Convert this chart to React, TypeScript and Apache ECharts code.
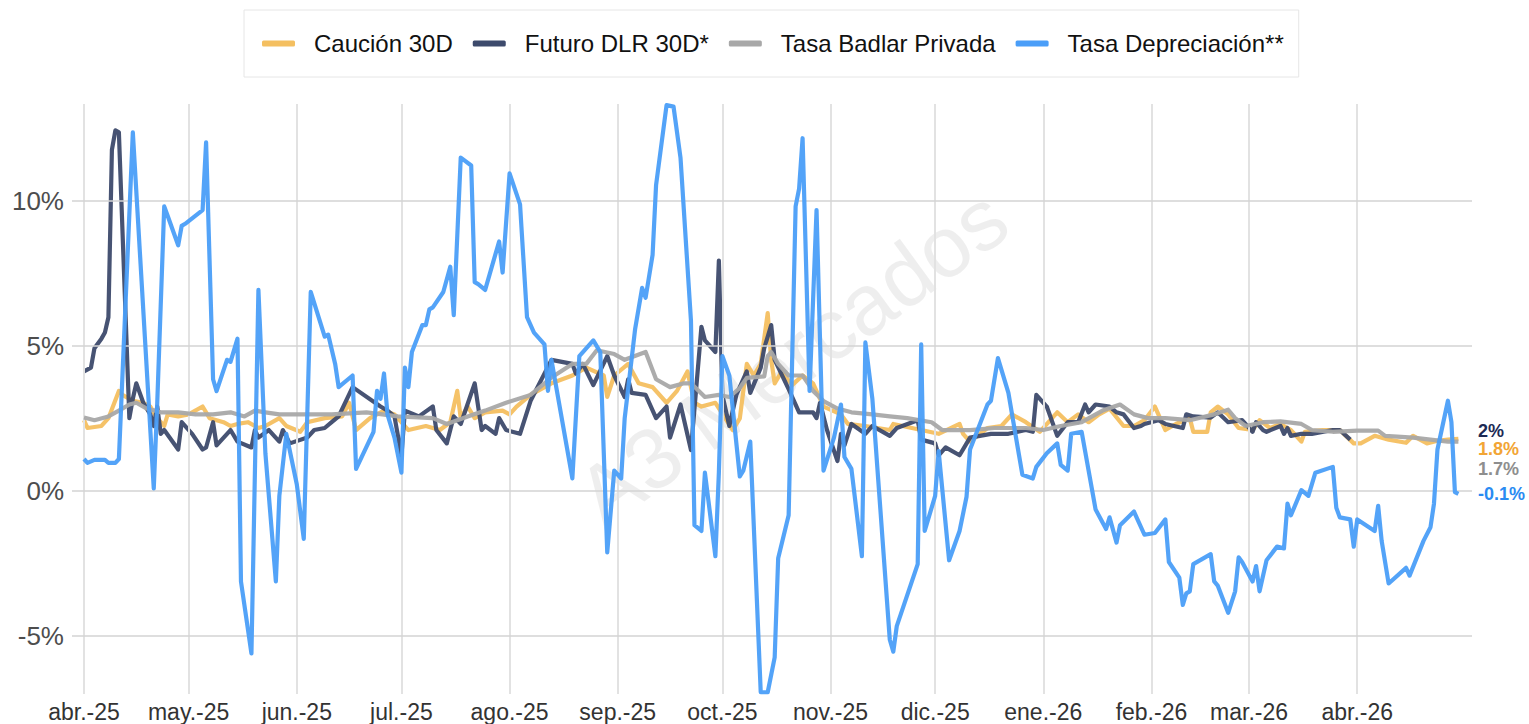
import React, { useEffect, useRef } from "react";
import * as echarts from "echarts";

// x values are day offsets from 1 Apr 2025
const monthLabels = ["abr.-25", "may.-25", "jun.-25", "jul.-25", "ago.-25", "sep.-25", "oct.-25", "nov.-25", "dic.-25", "ene.-26", "feb.-26", "mar.-26", "abr.-26"];
const monthStartDays = [0, 30, 61, 91, 122, 153, 183, 214, 244, 275, 306, 334, 365];
const yTicks = [-5, 0, 5, 10];
const seriesNames = ["Caución 30D", "Futuro DLR 30D*", "Tasa Badlar Privada", "Tasa Depreciación**"];
const endValues = [1.8, 2, 1.7, -0.1];
const lastDay = 394;

const caucion: [number, number][] = [
  [0, 2.44], [1, 2.17], [5, 2.24], [7, 2.51], [10, 3.45], [11, 3.31], [14, 3.11], [17, 3.04], [19, 2.91], [21, 2.51],
  [23, 2.24], [24, 2.64], [27, 2.57], [30, 2.64], [34, 2.91], [36, 2.51], [40, 2.37], [42, 2.24], [44, 2.31], [47, 2.37],
  [50, 2.17], [52, 2.24], [56, 2.51], [58, 2.24], [62, 2.04], [64, 2.37], [69, 2.51], [74, 2.57], [76, 3.04], [78, 2.1],
  [82, 2.51], [86, 2.77], [89, 2.64], [93, 2.1], [98, 2.24], [102, 2.1], [105, 2.37], [107, 3.45], [108, 2.51], [110, 2.91],
  [112, 2.51], [115, 2.71], [120, 2.77], [122, 2.64], [124, 2.91], [128, 3.31], [134, 3.71], [140, 3.98], [144, 4.25], [149, 3.98],
  [150, 3.24], [152, 3.98], [156, 4.38], [159, 3.71], [163, 3.58], [167, 3.04], [170, 3.45], [173, 4.12], [175, 3.04], [177, 2.91],
  [181, 3.04], [186, 2.1], [188, 2.5], [190, 4.38], [192, 3.98], [194, 4.38], [196, 6.13], [197, 4.52], [198, 3.71], [200, 4.12],
  [203, 3.65], [206, 3.98], [209, 3.71], [212, 2.91], [217, 2.64], [219, 2.31], [224, 2.24], [231, 2.1], [232, 2.31], [240, 2.1],
  [245, 1.97], [251, 2.31], [252, 1.97], [254, 1.7], [259, 2.17], [263, 2.24], [266, 2.64], [270, 2.37], [274, 2.04], [279, 2.71],
  [282, 2.37], [285, 2.64], [288, 2.37], [291, 2.64], [294, 2.84], [298, 2.24], [301, 2.24], [304, 2.44], [307, 2.91], [310, 2.1],
  [313, 2.31], [317, 2.51], [318, 2.04], [322, 2.04], [323, 2.71], [325, 2.91], [328, 2.64], [331, 2.17], [335, 2.1], [337, 2.44],
  [340, 2.17], [343, 2.31], [346, 2.1], [349, 1.7], [350, 2.04], [355, 2.1], [360, 2.1], [364, 1.64], [366, 1.64], [370, 1.9],
  [374, 1.77], [379, 1.66], [381, 1.9], [385, 1.64], [388, 1.73], [391, 1.77], [394, 1.8],
];

const futuro: [number, number][] = [
  [0, 4.12], [2, 4.25], [3, 4.92], [5, 5.25], [6, 5.46], [7, 5.99], [8, 11.76], [9, 12.43], [10, 12.36], [13, 2.51],
  [14, 3.18], [15, 3.71], [17, 3.04], [19, 2.64], [20, 2.24], [21, 2.91], [22, 1.97], [23, 2.1], [27, 1.43], [28, 2.37],
  [31, 1.97], [34, 1.43], [35, 1.5], [37, 2.37], [38, 1.57], [42, 2.1], [44, 1.7], [48, 1.5], [49, 2.1], [50, 1.84],
  [53, 2.1], [56, 1.7], [57, 2.1], [59, 1.64], [64, 1.84], [66, 2.1], [69, 2.17], [71, 2.37], [73, 2.57], [77, 3.58],
  [85, 2.91], [87, 2.77], [89, 2.57], [91, 1.23], [92, 2.77], [96, 2.57], [100, 2.91], [101, 2.1], [104, 1.64], [106, 2.57],
  [108, 2.31], [112, 3.71], [114, 2.1], [115, 2.24], [118, 1.97], [119, 2.51], [121, 2.1], [125, 1.97], [128, 3.1], [134, 4.52],
  [140, 4.38], [141, 4.05], [143, 4.38], [146, 3.65], [150, 4.65], [152, 3.98], [155, 3.24], [156, 3.85], [157, 3.38], [161, 3.31],
  [164, 2.51], [167, 2.91], [168, 1.84], [171, 2.98], [174, 1.41], [177, 5.66], [178, 5.19], [181, 4.79], [182, 7.94], [183, 3.31],
  [185, 2.24], [187, 3.31], [190, 4.12], [191, 3.38], [194, 4.25], [195, 4.92], [197, 5.72], [198, 4.52], [202, 3.51], [205, 2.71],
  [209, 2.71], [210, 2.51], [211, 3.04], [213, 2.1], [216, 1.03], [217, 1.97], [218, 1.57], [220, 2.31], [224, 1.97], [226, 2.24],
  [231, 1.9], [233, 2.17], [239, 2.44], [240, 1.77], [244, 1.64], [245, 1.23], [247, 1.5], [251, 1.23], [254, 1.84], [260, 1.97],
  [265, 1.97], [270, 2.1], [272, 2.04], [273, 3.31], [276, 2.91], [279, 1.9], [282, 2.37], [285, 2.37], [287, 2.98], [288, 2.71],
  [290, 2.98], [294, 2.91], [296, 2.71], [298, 2.64], [301, 2.17], [303, 2.24], [304, 2.31], [308, 2.44], [310, 2.31], [315, 2.17],
  [316, 2.64], [318, 2.57], [323, 2.53], [325, 2.71], [328, 2.37], [332, 2.44], [335, 2.04], [336, 2.37], [338, 2.1], [339, 2.04],
  [343, 2.24], [344, 1.97], [345, 2.17], [346, 1.9], [349, 1.97], [352, 1.97], [358, 2.1], [360, 2.1], [363, 1.77],
];

const badlar: [number, number][] = [
  [0, 2.53], [3, 2.44], [7, 2.57], [10, 2.77], [13, 2.98], [15, 3.04], [18, 2.84], [22, 2.71], [27, 2.71], [32, 2.64],
  [37, 2.64], [42, 2.71], [46, 2.57], [49, 2.77], [52, 2.71], [56, 2.64], [61, 2.64], [71, 2.64], [81, 2.71], [90, 2.57],
  [100, 2.51], [104, 2.31], [110, 2.57], [115, 2.77], [121, 3.04], [128, 3.31], [130, 3.51], [134, 3.91], [140, 4.38], [144, 4.38],
  [147, 4.85], [152, 4.72], [155, 4.52], [161, 4.79], [164, 3.85], [168, 3.58], [172, 3.71], [174, 3.71], [178, 3.24], [182, 3.31],
  [185, 3.24], [188, 3.55], [190, 3.9], [195, 3.95], [196, 4.65], [197, 4.79], [199, 4.38], [202, 3.98], [206, 3.98], [209, 3.45],
  [212, 3.1], [216, 2.84], [220, 2.71], [226, 2.64], [231, 2.57], [236, 2.51], [243, 2.37], [246, 2.1], [254, 2.1], [261, 2.17],
  [270, 2.17], [275, 2.1], [280, 2.24], [286, 2.37], [292, 2.77], [297, 2.98], [301, 2.64], [305, 2.51], [310, 2.51], [317, 2.44],
  [324, 2.64], [328, 2.8], [330, 2.51], [333, 2.24], [338, 2.37], [343, 2.4], [349, 2.31], [352, 2.1], [358, 2.04], [365, 2.08],
  [371, 2.08], [373, 1.9], [381, 1.84], [386, 1.77], [391, 1.7], [394, 1.7],
];

const depreciacion: [number, number][] = [
  [0, 1.1], [1, 0.97], [3, 1.07], [6, 1.07], [7, 0.97], [9, 0.97], [10, 1.1], [14, 12.36], [20, 0.09], [21, 3.04],
  [23, 9.81], [24, 9.48], [27, 8.47], [28, 9.14], [29, 9.21], [34, 9.68], [35, 12.02], [37, 3.85], [38, 3.44], [41, 4.52],
  [42, 4.45], [44, 5.25], [45, -3.12], [48, -5.6], [50, 6.93], [52, 1.3], [55, -3.12], [56, -0.17], [58, 1.97], [61, 0.23],
  [63, -1.65], [65, 6.86], [69, 5.32], [70, 5.39], [72, 4.38], [73, 3.58], [77, 3.98], [78, 0.76], [83, 2.04], [84, 3.45],
  [85, 3.18], [86, 4.05], [87, 2.64], [89, 1.84], [91, 0.63], [92, 4.25], [93, 3.58], [94, 4.79], [97, 5.72], [98, 5.72],
  [99, 6.26], [100, 6.33], [103, 6.86], [105, 7.73], [106, 6.06], [108, 11.49], [111, 11.22], [112, 7.2], [113, 7.13], [115, 6.93],
  [119, 8.6], [120, 7.53], [122, 10.95], [125, 9.88], [127, 5.99], [129, 5.46], [132, 5.05], [133, 3.45], [134, 4.52], [140, 0.43],
  [142, 4.65], [146, 5.19], [148, 4.79], [150, -2.12], [152, 0.7], [154, 0.43], [155, 2.51], [158, 5.59], [160, 7.0], [161, 6.66],
  [163, 8.14], [164, 10.55], [167, 13.3], [169, 13.25], [171, 11.49], [174, 5.86], [175, -1.18], [177, -1.38], [178, 0.63], [181, -2.25],
  [182, 0.63], [183, 4.65], [185, 3.98], [188, 0.5], [189, 0.7], [191, 1.7], [194, -6.94], [196, -6.94], [198, -5.74], [199, -2.32],
  [202, -0.84], [204, 9.81], [205, 10.42], [206, 12.16], [208, 3.45], [210, 9.68], [212, 0.7], [215, 1.84], [217, 2.98], [218, 1.17],
  [220, 0.76], [223, -2.25], [224, 5.12], [226, 3.18], [231, -5.13], [232, -5.54], [233, -4.66], [239, -2.52], [240, 5.05], [241, -1.38],
  [244, -0.17], [245, 1.37], [248, -2.39], [251, -1.38], [253, -0.2], [254, 1.43], [259, 2.98], [260, 3.11], [262, 4.58], [265, 3.38],
  [269, 0.56], [272, 0.43], [273, 0.83], [276, 1.3], [279, 1.64], [280, 0.9], [282, 0.7], [283, 1.97], [286, 2.04], [290, -0.64],
  [293, -1.31], [294, -0.91], [296, -1.78], [297, -1.18], [301, -0.71], [302, -0.98], [304, -1.51], [307, -1.45], [310, -0.98], [311, -2.45],
  [314, -2.99], [315, -3.93], [316, -3.53], [317, -3.46], [318, -2.52], [323, -2.18], [324, -3.12], [325, -3.26], [328, -4.2], [330, -3.46],
  [331, -2.29], [332, -2.45], [335, -3.12], [336, -2.59], [337, -3.46], [339, -2.39], [342, -1.92], [344, -1.98], [345, -0.44], [346, -0.84],
  [349, 0.03], [351, -0.17], [353, 0.63], [358, 0.83], [359, -0.58], [360, -0.91], [363, -0.98], [364, -1.92], [365, -0.98], [370, -1.38],
  [371, -0.51], [372, -1.72], [374, -3.19], [379, -2.65], [380, -2.92], [384, -1.72], [386, -1.25], [387, -0.44], [388, 1.43], [391, 3.11],
  [392, 2.37], [393, -0.04], [394, -0.1],
];

const FONT = "'Liberation Sans', Arial, sans-serif";

export default function App() {
  const ref = useRef<HTMLDivElement>(null);

  useEffect(() => {
    if (!ref.current) return;
    const chart = echarts.init(ref.current, undefined, { renderer: "svg" });

    const datasets = [caucion, futuro, badlar, depreciacion];
    const colors = ["#F4BF60", "#3D4A6C", "#A8A8A8", "#4A9EF8"];
    const labelColors = ["#F2A535", "#1C2A55", "#8E8E8E", "#2A8BF2"];
    const labelOffsets = [10, -2, 27, 0];

    const lineSeries = datasets.map((d, i) => ({
      name: seriesNames[i],
      type: "line",
      data: d,
      showSymbol: false,
      symbol: "none",
      z: 3 + i,
      lineStyle: { color: colors[i], width: 4.2, opacity: 0.95, join: "round" },
      itemStyle: { color: colors[i] },
      emphasis: { disabled: true },
      markPoint: {
        silent: true,
        symbol: "circle",
        symbolSize: 1,
        itemStyle: { color: "rgba(0,0,0,0)" },
        data: [{ coord: [lastDay, endValues[i]], value: endValues[i] }],
        label: {
          show: true,
          position: "right",
          distance: 19,
          offset: [0, labelOffsets[i]],
          formatter: () => `${endValues[i]}%`,
          color: labelColors[i],
          fontSize: 18,
          fontWeight: "bold",
          lineHeight: 18,
          fontFamily: FONT,
        },
      },
    }));

    const gridSeries = {
      name: "grid",
      type: "line",
      data: [[monthStartDays[0], null]],
      symbol: "none",
      silent: true,
      z: 1,
      lineStyle: { opacity: 0 },
      markLine: {
        silent: true,
        symbol: ["none", "none"],
        label: { show: false },
        emphasis: { disabled: true },
        data: [
          ...monthStartDays.map((d) => ({ xAxis: d, lineStyle: { color: "#e2e2e2", width: 2, type: "solid" } })),
          ...yTicks.map((v) => ({ yAxis: v, lineStyle: { color: "#d3d3d3", width: 1.6, type: "solid" } })),
        ],
      },
    };

    chart.setOption({
      animation: false,
      backgroundColor: "#ffffff",
      textStyle: { fontFamily: FONT },
      grid: { left: 72, right: 57, top: 104, bottom: 30, containLabel: false, outerBoundsMode: "none" },
      legend: {
        data: seriesNames,
        left: 244,
        top: 10,
        orient: "horizontal",
        icon: "roundRect",
        itemWidth: 33,
        itemHeight: 6,
        itemGap: 20,
        padding: [20, 15, 20, 18],
        borderColor: "#e6e6e6",
        borderWidth: 1,
        selectedMode: false,
        textStyle: { fontSize: 24, color: "#111111", fontFamily: FONT, padding: [0, 0, 0, 14], lineHeight: 27 },
      },
      graphic: [
        {
          type: "text",
          x: 792,
          y: 357,
          rotation: (36 * Math.PI) / 180,
          silent: true,
          z: 0,
          style: {
            text: "A3 Mercados",
            fontSize: 86,
            fontFamily: FONT,
            fill: "rgba(0,0,0,0.065)",
            align: "center",
            verticalAlign: "middle",
            textAlign: "center",
            textVerticalAlign: "middle",
          },
        },
      ],
      xAxis: {
        type: "value",
        min: -3.44,
        max: 397.9,
        axisLine: { show: false },
        axisTick: { show: false },
        splitLine: { show: false },
        axisLabel: {
          customValues: monthStartDays,
          formatter: (v: number) => {
            const idx = monthStartDays.indexOf(Math.round(v));
            return idx >= 0 ? monthLabels[idx] : "";
          },
          fontSize: 23,
          color: "#333333",
          margin: 6,
          fontFamily: FONT,
          hideOverlap: false,
        },
      },
      yAxis: {
        type: "value",
        min: -7,
        max: 13.34,
        axisLine: { show: false },
        axisTick: { show: false },
        splitLine: { show: false },
        axisLabel: {
          customValues: yTicks,
          formatter: (v: number) => `${v}%`,
          fontSize: 26,
          color: "#4d4d4d",
          margin: 8,
          fontFamily: FONT,
        },
      },
      series: [gridSeries, ...lineSeries],
    });

    return () => chart.dispose();
  }, []);

  return (
    <div
      ref={ref}
      style={{ position: "fixed", left: 0, top: 0, width: 1529, height: 724, background: "#ffffff" }}
    />
  );
}
